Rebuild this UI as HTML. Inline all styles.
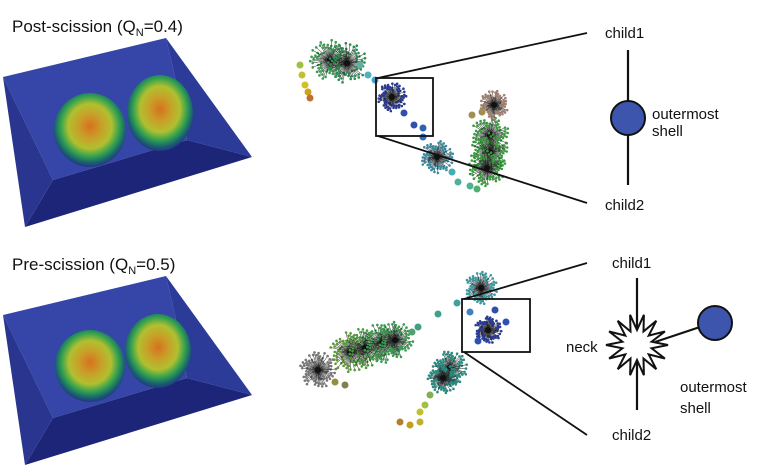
<!DOCTYPE html>
<html><head><meta charset="utf-8"><style>
body{margin:0;background:#fff;width:764px;height:465px;overflow:hidden}
svg{display:block}
text{font-family:"Liberation Sans",sans-serif;fill:#111}
</style></head><body>
<svg id="fig" width="764" height="465" viewBox="0 0 764 465">
<defs>
<radialGradient id="nuc" cx="50%" cy="45%" r="55%">
<stop offset="0" stop-color="#d87020"/><stop offset="0.3" stop-color="#c8a028"/><stop offset="0.55" stop-color="#b0c030"/><stop offset="0.75" stop-color="#30a050"/><stop offset="0.9" stop-color="#1a6070"/><stop offset="1" stop-color="#203880"/>
</radialGradient>
</defs>
<g>
<text x="12" y="32" font-size="17">Post-scission (Q<tspan font-size="11" dy="4">N</tspan><tspan dy="-4">=0.4)</tspan></text>
<g>
<polygon points="3,77 166,38 175,77 187,140 53,180" fill="#3545a8"/>
<polygon points="166,38 252,157 187,140 175,77" fill="#2c3a98"/>
<polygon points="53,180 187,140 252,157 25,227" fill="#1c2578"/>
<polygon points="3,77 53,180 25,227" fill="#2a3590"/>
<ellipse cx="90" cy="130" rx="36" ry="37" fill="url(#nuc)"/>
<ellipse cx="160" cy="113" rx="33" ry="38" fill="url(#nuc)"/>
</g>
</g>
<g>
<text x="12" y="270" font-size="17">Pre-scission (Q<tspan font-size="11" dy="4">N</tspan><tspan dy="-4">=0.5)</tspan></text>
<g transform="translate(0,238)">
<polygon points="3,77 166,38 175,77 187,140 53,180" fill="#3545a8"/>
<polygon points="166,38 252,157 187,140 175,77" fill="#2c3a98"/>
<polygon points="53,180 187,140 252,157 25,227" fill="#1c2578"/>
<polygon points="3,77 53,180 25,227" fill="#2a3590"/>
<ellipse cx="90" cy="128" rx="35" ry="36" fill="url(#nuc)"/>
<ellipse cx="158" cy="113" rx="33" ry="37" fill="url(#nuc)"/>
</g>
</g>
<g id="trees"></g>
<g stroke="#111" stroke-width="1.8" fill="none">
<rect x="376" y="78" width="57" height="58"/>
<line x1="378" y1="78" x2="587" y2="33"/><line x1="378" y1="136" x2="587" y2="203"/>
<rect x="462" y="299" width="68" height="53"/>
<line x1="464" y1="299" x2="587" y2="263"/><line x1="464" y1="352" x2="587" y2="435"/>
</g>
<g>
<text x="605" y="38" font-size="15">child1</text>
<line x1="628" y1="50" x2="628" y2="185" stroke="#111" stroke-width="2.2"/>
<circle cx="628" cy="118" r="17" fill="#3d55ad" stroke="#111" stroke-width="2"/>
<text x="652" y="119" font-size="15">outermost</text>
<text x="652" y="136" font-size="15">shell</text>
<text x="605" y="210" font-size="15">child2</text>
</g>
<g>
<text x="612" y="268" font-size="15">child1</text>
<line x1="637" y1="278" x2="637" y2="410" stroke="#111" stroke-width="2.2"/>
<line x1="655" y1="342" x2="712" y2="323" stroke="#111" stroke-width="2.2"/>
<polygon id="star" fill="#fff" stroke="#111" stroke-width="2"/>
<circle cx="715" cy="323" r="17" fill="#3d55ad" stroke="#111" stroke-width="2"/>
<text x="566" y="352" font-size="15">neck</text>
<text x="680" y="392" font-size="15">outermost</text>
<text x="680" y="413" font-size="15">shell</text>
<text x="612" y="440" font-size="15">child2</text>
</g>
</svg>
<script>
var NS="http://www.w3.org/2000/svg";
var pts=[];for(var i=0;i<28;i++){var a=i*Math.PI/14,r=i%2?15:31;pts.push((637+r*Math.cos(a)).toFixed(1)+","+(345+r*Math.sin(a)).toFixed(1));}
document.getElementById('star').setAttribute('points',pts.join(' '));
var g=document.getElementById('trees');
var clusters=[[330,60,21,"#3a9a50"],[347,63,21,"#2f8a55"],[392,97,15,"#2a3a90"],[437,157,17,"#3a8aa0"],[490,135,20,"#3a9a40"],[490,152,20,"#3a9a40"],[487,168,19,"#3a9a40"],[494,105,15,"#a08070"],
[481,288,17,"#3a9aa0"],[488,330,14,"#2a3a90"],[350,352,21,"#5a9a30"],[365,348,21,"#4a9a40"],[382,343,21,"#3a9a50"],[395,340,19,"#3a9a50"],[318,370,19,"#777"],[450,368,18,"#2a8a80"],[443,378,16,"#2a8a80"]];
var beads=[[300,65,"#a0c040"],[302,75,"#c0c030"],[305,85,"#d0c020"],[308,92,"#d0a020"],[310,98,"#c07030"],[360,65,"#60b0a0"],[368,75,"#50b0c0"],[375,80,"#40a0d0"],[404,113,"#3050b0"],[414,125,"#3050b0"],[423,128,"#3060b0"],[423,137,"#3070c0"],[452,172,"#40b0b0"],[458,182,"#50b0a0"],[470,186,"#50b090"],[477,189,"#50b070"],[472,115,"#a09050"],[482,112,"#a09050"],
[457,303,"#40a0a0"],[438,314,"#40a090"],[418,327,"#40a080"],[412,332,"#50a070"],[470,312,"#4080c0"],[478,341,"#3050b0"],[506,322,"#3050b0"],[495,310,"#3050b0"],[430,395,"#80b050"],[425,405,"#a0c040"],[420,412,"#c0c030"],[420,422,"#c0b030"],[410,425,"#c0a020"],[400,422,"#b08030"],[335,382,"#909040"],[345,385,"#808050"]];
clusters.forEach(function(c,k){
  var cg=document.createElementNS(NS,'g');
  
  
  var n=70;
  for(var i=0;i<n;i++){var a=i*2.399+k,r=c[2]*(0.45+0.55*((i*37)%10)/10);
    var l=document.createElementNS(NS,'line');
    l.setAttribute('x1',c[0]);l.setAttribute('y1',c[1]);
    l.setAttribute('x2',c[0]+r*Math.cos(a));l.setAttribute('y2',c[1]+r*Math.sin(a));
    l.setAttribute('stroke','#222');l.setAttribute('stroke-width','0.5');cg.appendChild(l);
    var d=document.createElementNS(NS,'circle');
    d.setAttribute('cx',c[0]+r*Math.cos(a));d.setAttribute('cy',c[1]+r*Math.sin(a));d.setAttribute('r','1.3');d.setAttribute('fill',c[3]);cg.appendChild(d);}
  var h=document.createElementNS(NS,'circle');h.setAttribute('cx',c[0]);h.setAttribute('cy',c[1]);h.setAttribute('r','3');h.setAttribute('fill','#111');cg.appendChild(h);
  g.appendChild(cg);
});
beads.forEach(function(b){
  var d=document.createElementNS(NS,'circle');
  
  
  d.setAttribute('cx',b[0]);d.setAttribute('cy',b[1]);d.setAttribute('r','3.5');d.setAttribute('fill',b[2]);g.appendChild(d);
});
</script>
</body></html>
